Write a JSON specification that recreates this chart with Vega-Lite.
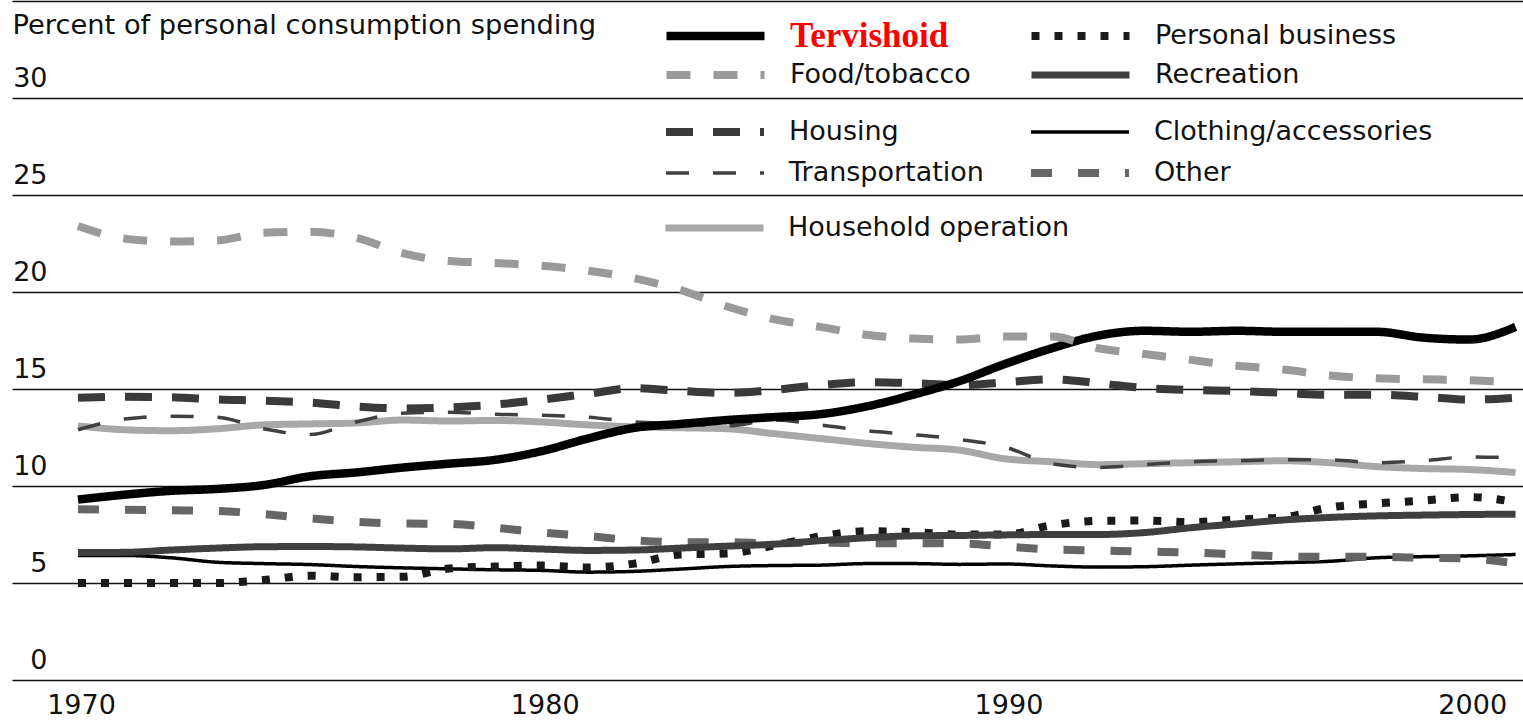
{
  "$schema": "https://vega.github.io/schema/vega-lite/v6.json",
  "width": 1511,
  "height": 679,
  "autosize": "none",
  "padding": {"left": 12, "top": 1, "right": 0, "bottom": 40},
  "background": "#ffffff",
  "config": {"view": {"stroke": null}, "font": "DejaVu Sans"},
  "data": {"values": [
    {"year":1970,"series":"Tervishoid","value":9.3},{"year":1971,"series":"Tervishoid","value":9.55},{"year":1972,"series":"Tervishoid","value":9.75},{"year":1973,"series":"Tervishoid","value":9.85},{"year":1974,"series":"Tervishoid","value":10.05},{"year":1975,"series":"Tervishoid","value":10.5},{"year":1976,"series":"Tervishoid","value":10.7},{"year":1977,"series":"Tervishoid","value":10.95},{"year":1978,"series":"Tervishoid","value":11.15},{"year":1979,"series":"Tervishoid","value":11.35},{"year":1980,"series":"Tervishoid","value":11.8},{"year":1981,"series":"Tervishoid","value":12.45},{"year":1982,"series":"Tervishoid","value":13.0},{"year":1983,"series":"Tervishoid","value":13.2},{"year":1984,"series":"Tervishoid","value":13.4},{"year":1985,"series":"Tervishoid","value":13.55},{"year":1986,"series":"Tervishoid","value":13.7},{"year":1987,"series":"Tervishoid","value":14.1},{"year":1988,"series":"Tervishoid","value":14.7},{"year":1989,"series":"Tervishoid","value":15.4},{"year":1990,"series":"Tervishoid","value":16.3},{"year":1991,"series":"Tervishoid","value":17.1},{"year":1992,"series":"Tervishoid","value":17.75},{"year":1993,"series":"Tervishoid","value":18.0},{"year":1994,"series":"Tervishoid","value":17.95},{"year":1995,"series":"Tervishoid","value":18.0},{"year":1996,"series":"Tervishoid","value":17.95},{"year":1997,"series":"Tervishoid","value":17.95},{"year":1998,"series":"Tervishoid","value":17.95},{"year":1999,"series":"Tervishoid","value":17.65},{"year":2000,"series":"Tervishoid","value":17.55},{"year":2001,"series":"Tervishoid","value":18.2},
    {"year":1970,"series":"Food/tobacco","value":23.4},{"year":1971,"series":"Food/tobacco","value":22.75},{"year":1972,"series":"Food/tobacco","value":22.6},{"year":1973,"series":"Food/tobacco","value":22.65},{"year":1974,"series":"Food/tobacco","value":23.05},{"year":1975,"series":"Food/tobacco","value":23.1},{"year":1976,"series":"Food/tobacco","value":22.8},{"year":1977,"series":"Food/tobacco","value":22.0},{"year":1978,"series":"Food/tobacco","value":21.6},{"year":1979,"series":"Food/tobacco","value":21.5},{"year":1980,"series":"Food/tobacco","value":21.35},{"year":1981,"series":"Food/tobacco","value":21.1},{"year":1982,"series":"Food/tobacco","value":20.7},{"year":1983,"series":"Food/tobacco","value":20.1},{"year":1984,"series":"Food/tobacco","value":19.25},{"year":1985,"series":"Food/tobacco","value":18.6},{"year":1986,"series":"Food/tobacco","value":18.2},{"year":1987,"series":"Food/tobacco","value":17.8},{"year":1988,"series":"Food/tobacco","value":17.6},{"year":1989,"series":"Food/tobacco","value":17.55},{"year":1990,"series":"Food/tobacco","value":17.7},{"year":1991,"series":"Food/tobacco","value":17.7},{"year":1992,"series":"Food/tobacco","value":17.1},{"year":1993,"series":"Food/tobacco","value":16.8},{"year":1994,"series":"Food/tobacco","value":16.5},{"year":1995,"series":"Food/tobacco","value":16.2},{"year":1996,"series":"Food/tobacco","value":16.0},{"year":1997,"series":"Food/tobacco","value":15.7},{"year":1998,"series":"Food/tobacco","value":15.55},{"year":1999,"series":"Food/tobacco","value":15.5},{"year":2000,"series":"Food/tobacco","value":15.45},{"year":2001,"series":"Food/tobacco","value":15.35},
    {"year":1970,"series":"Housing","value":14.55},{"year":1971,"series":"Housing","value":14.6},{"year":1972,"series":"Housing","value":14.58},{"year":1973,"series":"Housing","value":14.46},{"year":1974,"series":"Housing","value":14.4},{"year":1975,"series":"Housing","value":14.3},{"year":1976,"series":"Housing","value":14.1},{"year":1977,"series":"Housing","value":14.0},{"year":1978,"series":"Housing","value":14.05},{"year":1979,"series":"Housing","value":14.2},{"year":1980,"series":"Housing","value":14.45},{"year":1981,"series":"Housing","value":14.75},{"year":1982,"series":"Housing","value":15.05},{"year":1983,"series":"Housing","value":14.9},{"year":1984,"series":"Housing","value":14.8},{"year":1985,"series":"Housing","value":14.95},{"year":1986,"series":"Housing","value":15.2},{"year":1987,"series":"Housing","value":15.35},{"year":1988,"series":"Housing","value":15.3},{"year":1989,"series":"Housing","value":15.2},{"year":1990,"series":"Housing","value":15.35},{"year":1991,"series":"Housing","value":15.5},{"year":1992,"series":"Housing","value":15.3},{"year":1993,"series":"Housing","value":15.05},{"year":1994,"series":"Housing","value":14.95},{"year":1995,"series":"Housing","value":14.9},{"year":1996,"series":"Housing","value":14.8},{"year":1997,"series":"Housing","value":14.7},{"year":1998,"series":"Housing","value":14.7},{"year":1999,"series":"Housing","value":14.6},{"year":2000,"series":"Housing","value":14.45},{"year":2001,"series":"Housing","value":14.55},
    {"year":1970,"series":"Transportation","value":12.9},{"year":1971,"series":"Transportation","value":13.45},{"year":1972,"series":"Transportation","value":13.6},{"year":1973,"series":"Transportation","value":13.55},{"year":1974,"series":"Transportation","value":12.95},{"year":1975,"series":"Transportation","value":12.65},{"year":1976,"series":"Transportation","value":13.3},{"year":1977,"series":"Transportation","value":13.75},{"year":1978,"series":"Transportation","value":13.8},{"year":1979,"series":"Transportation","value":13.7},{"year":1980,"series":"Transportation","value":13.65},{"year":1981,"series":"Transportation","value":13.55},{"year":1982,"series":"Transportation","value":13.3},{"year":1983,"series":"Transportation","value":13.2},{"year":1984,"series":"Transportation","value":13.1},{"year":1985,"series":"Transportation","value":13.4},{"year":1986,"series":"Transportation","value":13.15},{"year":1987,"series":"Transportation","value":12.85},{"year":1988,"series":"Transportation","value":12.65},{"year":1989,"series":"Transportation","value":12.4},{"year":1990,"series":"Transportation","value":12.0},{"year":1991,"series":"Transportation","value":11.15},{"year":1992,"series":"Transportation","value":10.95},{"year":1993,"series":"Transportation","value":11.1},{"year":1994,"series":"Transportation","value":11.25},{"year":1995,"series":"Transportation","value":11.3},{"year":1996,"series":"Transportation","value":11.35},{"year":1997,"series":"Transportation","value":11.35},{"year":1998,"series":"Transportation","value":11.2},{"year":1999,"series":"Transportation","value":11.3},{"year":2000,"series":"Transportation","value":11.5},{"year":2001,"series":"Transportation","value":11.45},
    {"year":1970,"series":"Household operation","value":13.1},{"year":1971,"series":"Household operation","value":12.9},{"year":1972,"series":"Household operation","value":12.85},{"year":1973,"series":"Household operation","value":12.95},{"year":1974,"series":"Household operation","value":13.15},{"year":1975,"series":"Household operation","value":13.2},{"year":1976,"series":"Household operation","value":13.25},{"year":1977,"series":"Household operation","value":13.4},{"year":1978,"series":"Household operation","value":13.35},{"year":1979,"series":"Household operation","value":13.38},{"year":1980,"series":"Household operation","value":13.3},{"year":1981,"series":"Household operation","value":13.15},{"year":1982,"series":"Household operation","value":13.05},{"year":1983,"series":"Household operation","value":13.0},{"year":1984,"series":"Household operation","value":12.95},{"year":1985,"series":"Household operation","value":12.7},{"year":1986,"series":"Household operation","value":12.45},{"year":1987,"series":"Household operation","value":12.2},{"year":1988,"series":"Household operation","value":12.0},{"year":1989,"series":"Household operation","value":11.85},{"year":1990,"series":"Household operation","value":11.4},{"year":1991,"series":"Household operation","value":11.25},{"year":1992,"series":"Household operation","value":11.1},{"year":1993,"series":"Household operation","value":11.15},{"year":1994,"series":"Household operation","value":11.2},{"year":1995,"series":"Household operation","value":11.25},{"year":1996,"series":"Household operation","value":11.3},{"year":1997,"series":"Household operation","value":11.2},{"year":1998,"series":"Household operation","value":11.0},{"year":1999,"series":"Household operation","value":10.9},{"year":2000,"series":"Household operation","value":10.85},{"year":2001,"series":"Household operation","value":10.7},
    {"year":1970,"series":"Personal business","value":5.0},{"year":1971,"series":"Personal business","value":5.0},{"year":1972,"series":"Personal business","value":5.0},{"year":1973,"series":"Personal business","value":5.0},{"year":1974,"series":"Personal business","value":5.15},{"year":1975,"series":"Personal business","value":5.38},{"year":1976,"series":"Personal business","value":5.3},{"year":1977,"series":"Personal business","value":5.32},{"year":1978,"series":"Personal business","value":5.75},{"year":1979,"series":"Personal business","value":5.85},{"year":1980,"series":"Personal business","value":5.9},{"year":1981,"series":"Personal business","value":5.8},{"year":1982,"series":"Personal business","value":6.0},{"year":1983,"series":"Personal business","value":6.47},{"year":1984,"series":"Personal business","value":6.52},{"year":1985,"series":"Personal business","value":6.93},{"year":1986,"series":"Personal business","value":7.4},{"year":1987,"series":"Personal business","value":7.67},{"year":1988,"series":"Personal business","value":7.62},{"year":1989,"series":"Personal business","value":7.5},{"year":1990,"series":"Personal business","value":7.5},{"year":1991,"series":"Personal business","value":7.98},{"year":1992,"series":"Personal business","value":8.2},{"year":1993,"series":"Personal business","value":8.22},{"year":1994,"series":"Personal business","value":8.14},{"year":1995,"series":"Personal business","value":8.27},{"year":1996,"series":"Personal business","value":8.39},{"year":1997,"series":"Personal business","value":8.9},{"year":1998,"series":"Personal business","value":9.1},{"year":1999,"series":"Personal business","value":9.25},{"year":2000,"series":"Personal business","value":9.43},{"year":2001,"series":"Personal business","value":9.17},
    {"year":1970,"series":"Recreation","value":6.57},{"year":1971,"series":"Recreation","value":6.58},{"year":1972,"series":"Recreation","value":6.7},{"year":1973,"series":"Recreation","value":6.8},{"year":1974,"series":"Recreation","value":6.87},{"year":1975,"series":"Recreation","value":6.88},{"year":1976,"series":"Recreation","value":6.86},{"year":1977,"series":"Recreation","value":6.8},{"year":1978,"series":"Recreation","value":6.76},{"year":1979,"series":"Recreation","value":6.82},{"year":1980,"series":"Recreation","value":6.75},{"year":1981,"series":"Recreation","value":6.68},{"year":1982,"series":"Recreation","value":6.7},{"year":1983,"series":"Recreation","value":6.8},{"year":1984,"series":"Recreation","value":6.9},{"year":1985,"series":"Recreation","value":7.0},{"year":1986,"series":"Recreation","value":7.18},{"year":1987,"series":"Recreation","value":7.33},{"year":1988,"series":"Recreation","value":7.43},{"year":1989,"series":"Recreation","value":7.45},{"year":1990,"series":"Recreation","value":7.48},{"year":1991,"series":"Recreation","value":7.5},{"year":1992,"series":"Recreation","value":7.5},{"year":1993,"series":"Recreation","value":7.6},{"year":1994,"series":"Recreation","value":7.85},{"year":1995,"series":"Recreation","value":8.05},{"year":1996,"series":"Recreation","value":8.25},{"year":1997,"series":"Recreation","value":8.38},{"year":1998,"series":"Recreation","value":8.46},{"year":1999,"series":"Recreation","value":8.5},{"year":2000,"series":"Recreation","value":8.53},{"year":2001,"series":"Recreation","value":8.55},
    {"year":1970,"series":"Clothing/accessories","value":6.42},{"year":1971,"series":"Clothing/accessories","value":6.42},{"year":1972,"series":"Clothing/accessories","value":6.3},{"year":1973,"series":"Clothing/accessories","value":6.07},{"year":1974,"series":"Clothing/accessories","value":6.0},{"year":1975,"series":"Clothing/accessories","value":5.95},{"year":1976,"series":"Clothing/accessories","value":5.85},{"year":1977,"series":"Clothing/accessories","value":5.78},{"year":1978,"series":"Clothing/accessories","value":5.73},{"year":1979,"series":"Clothing/accessories","value":5.68},{"year":1980,"series":"Clothing/accessories","value":5.65},{"year":1981,"series":"Clothing/accessories","value":5.56},{"year":1982,"series":"Clothing/accessories","value":5.6},{"year":1983,"series":"Clothing/accessories","value":5.72},{"year":1984,"series":"Clothing/accessories","value":5.85},{"year":1985,"series":"Clothing/accessories","value":5.9},{"year":1986,"series":"Clothing/accessories","value":5.92},{"year":1987,"series":"Clothing/accessories","value":6.0},{"year":1988,"series":"Clothing/accessories","value":6.0},{"year":1989,"series":"Clothing/accessories","value":5.96},{"year":1990,"series":"Clothing/accessories","value":5.98},{"year":1991,"series":"Clothing/accessories","value":5.88},{"year":1992,"series":"Clothing/accessories","value":5.82},{"year":1993,"series":"Clothing/accessories","value":5.84},{"year":1994,"series":"Clothing/accessories","value":5.92},{"year":1995,"series":"Clothing/accessories","value":5.99},{"year":1996,"series":"Clothing/accessories","value":6.05},{"year":1997,"series":"Clothing/accessories","value":6.12},{"year":1998,"series":"Clothing/accessories","value":6.3},{"year":1999,"series":"Clothing/accessories","value":6.36},{"year":2000,"series":"Clothing/accessories","value":6.4},{"year":2001,"series":"Clothing/accessories","value":6.47},
    {"year":1970,"series":"Other","value":8.8},{"year":1971,"series":"Other","value":8.78},{"year":1972,"series":"Other","value":8.75},{"year":1973,"series":"Other","value":8.72},{"year":1974,"series":"Other","value":8.55},{"year":1975,"series":"Other","value":8.33},{"year":1976,"series":"Other","value":8.15},{"year":1977,"series":"Other","value":8.07},{"year":1978,"series":"Other","value":8.05},{"year":1979,"series":"Other","value":7.85},{"year":1980,"series":"Other","value":7.6},{"year":1981,"series":"Other","value":7.42},{"year":1982,"series":"Other","value":7.2},{"year":1983,"series":"Other","value":7.1},{"year":1984,"series":"Other","value":7.1},{"year":1985,"series":"Other","value":7.05},{"year":1986,"series":"Other","value":7.08},{"year":1987,"series":"Other","value":7.05},{"year":1988,"series":"Other","value":7.05},{"year":1989,"series":"Other","value":7.04},{"year":1990,"series":"Other","value":6.88},{"year":1991,"series":"Other","value":6.73},{"year":1992,"series":"Other","value":6.68},{"year":1993,"series":"Other","value":6.62},{"year":1994,"series":"Other","value":6.57},{"year":1995,"series":"Other","value":6.47},{"year":1996,"series":"Other","value":6.37},{"year":1997,"series":"Other","value":6.35},{"year":1998,"series":"Other","value":6.35},{"year":1999,"series":"Other","value":6.3},{"year":2000,"series":"Other","value":6.26},{"year":2001,"series":"Other","value":6.0}
  ]},
  "encoding": {
    "x": {"field": "year", "type": "quantitative",
      "scale": {"domain": [1968.577, 2001.16], "nice": false, "zero": false},
      "axis": {"values": [1970, 1980, 1990, 2000], "format": "d", "grid": false, "domain": false, "ticks": false,
        "labelPadding": 33, "labelBaseline": "alphabetic", "labelOffset": 3, "labelFont": "DejaVu Sans", "labelFontSize": 27,
        "labelColor": "#111111", "labelFlush": false, "labelOverlap": false, "title": null}},
    "y": {"field": "value", "type": "quantitative",
      "scale": {"domain": [0, 35], "nice": false, "zero": false},
      "axis": {"values": [0, 5, 10, 15, 20, 25, 30, 35], "grid": true, "gridColor": "#111111", "gridWidth": 1.7,
        "domain": false, "ticks": false, "tickSize": 0,
        "labelExpr": "datum.value == 35 ? '' : datum.label", "labelAlign": "right", "labelBaseline": "alphabetic",
        "labelPadding": -35, "labelOffset": -12, "labelFont": "DejaVu Sans", "labelFontSize": 27, "labelColor": "#111111",
        "labelOverlap": false, "labelFlush": false, "labelBound": false,
        "title": "Percent of personal consumption spending", "titleX": 0, "titleY": 32, "titleAngle": 0,
        "titleAlign": "left", "titleBaseline": "alphabetic", "titleFont": "DejaVu Sans", "titleFontSize": 27.3,
        "titleFontWeight": "normal", "titleColor": "#111111"}}
  },
  "layer": [
    {
      "transform": [{"filter": {"field": "series", "oneOf": ["Household operation"]}}],
      "mark": {"type": "line", "interpolate": "monotone"},
      "encoding": {
        "color": {"field": "series", "type": "nominal",
          "scale": {"domain": ["Household operation"], "range": ["#a8a8a8"]},
          "legend": {"orient": "none", "legendX": 650, "legendY": 210, "columns": 2, "direction": "vertical", "title": null,
            "symbolType": "stroke", "symbolSize": 9604, "clipHeight": 34,
            "labelFont": "DejaVu Sans", "labelFontSize": 27, "labelColor": "#111111", "labelLimit": 600, "labelOffset": 21, "padding": 0}},
        "strokeDash": {"field": "series", "type": "nominal", "scale": {"type": "ordinal", "domain": ["Household operation"], "range": [[1, 0]]}},
        "strokeWidth": {"field": "series", "type": "nominal", "scale": {"type": "ordinal", "domain": ["Household operation"], "range": [7]}}
      }
    },
    {
      "transform": [{"filter": {"field": "series", "oneOf": ["Housing", "Transportation", "Clothing/accessories", "Other"]}}],
      "mark": {"type": "line", "interpolate": "monotone"},
      "encoding": {
        "color": {"field": "series", "type": "nominal",
          "scale": {"domain": ["Housing", "Transportation", "Clothing/accessories", "Other"], "range": ["#3a3a3a", "#404040", "#000000", "#666666"]},
          "legend": {"orient": "none", "legendX": 650, "legendY": 114, "columns": 2, "direction": "vertical", "title": null,
            "symbolType": "stroke", "symbolSize": 9604, "clipHeight": 34, "labelFont": "DejaVu Sans", "labelFontSize": 27, "labelColor": "#111111",
            "labelLimit": 600, "labelOffset": 21, "rowPadding": 7, "columnPadding": 43, "padding": 0}},
        "strokeDash": {"field": "series", "type": "nominal",
          "scale": {"type": "ordinal", "domain": ["Housing", "Transportation", "Clothing/accessories", "Other"], "range": [[27, 20], [23, 24], [1, 0], [21, 26]]}},
        "strokeWidth": {"field": "series", "type": "nominal",
          "scale": {"type": "ordinal", "domain": ["Housing", "Transportation", "Clothing/accessories", "Other"], "range": [8, 3.5, 3.5, 8]}}
      }
    },
    {
      "transform": [{"filter": {"field": "series", "oneOf": ["Tervishoid", "Food/tobacco", "Personal business", "Recreation"]}}],
      "mark": {"type": "line", "interpolate": "monotone"},
      "encoding": {
        "color": {"field": "series", "type": "nominal",
          "scale": {"domain": ["Tervishoid", "Food/tobacco", "Personal business", "Recreation"], "range": ["#000000", "#9a9a9a", "#1a1a1a", "#3f3f3f"]},
          "legend": {"orient": "none", "legendX": 650, "legendY": 17, "columns": 2, "direction": "vertical", "title": null,
            "symbolType": "stroke", "symbolSize": 9604, "clipHeight": 36, "labelFont": "DejaVu Sans", "labelFontSize": 27, "labelColor": "#111111",
            "labelLimit": 600, "labelOffset": 21, "rowPadding": 3, "columnPadding": 56, "padding": 0,
            "encode": {"labels": {"update": {
              "fill": {"signal": "datum.label === 'Tervishoid' ? '#ff0000' : '#111111'"},
              "font": {"signal": "datum.label === 'Tervishoid' ? 'Liberation Serif' : 'DejaVu Sans'"},
              "fontWeight": {"signal": "datum.label === 'Tervishoid' ? 'bold' : 'normal'"},
              "fontSize": {"signal": "datum.label === 'Tervishoid' ? 35 : 27"}
            }}}}},
        "strokeDash": {"field": "series", "type": "nominal",
          "scale": {"type": "ordinal", "domain": ["Tervishoid", "Food/tobacco", "Personal business", "Recreation"], "range": [[1, 0], [24, 23], [8, 15], [1, 0]]}},
        "strokeWidth": {"field": "series", "type": "nominal",
          "scale": {"type": "ordinal", "domain": ["Tervishoid", "Food/tobacco", "Personal business", "Recreation"], "range": [8.5, 8, 8, 7]}}
      }
    }
  ],
  "resolve": {"scale": {"color": "independent", "strokeDash": "independent", "strokeWidth": "independent"}}
}
